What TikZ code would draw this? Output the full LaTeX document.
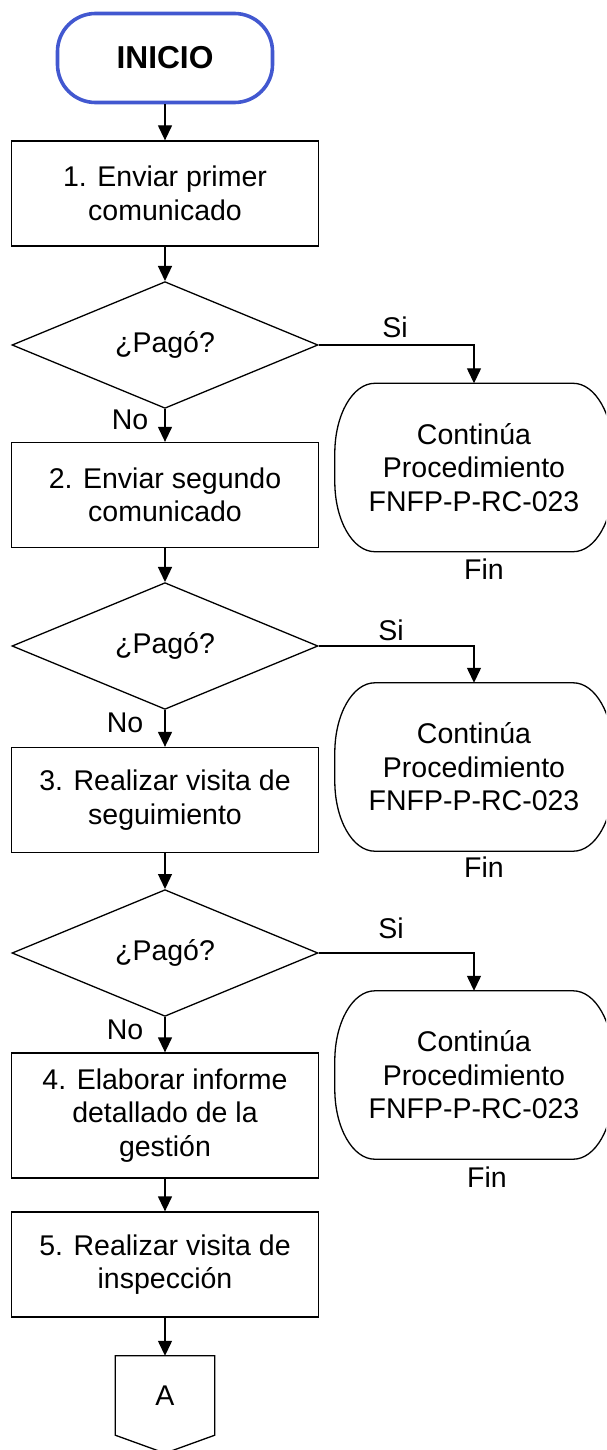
\documentclass[tikz,border=0pt]{standalone}
\usepackage{fontspec}
\setmainfont{Liberation Sans}
\usetikzlibrary{arrows.meta,shapes.geometric}
\definecolor{inicioblue}{RGB}{66,88,208}
\begin{document}
\begin{tikzpicture}[x=1pt,y=-1pt,
  every node/.style={font=\fontsize{28.5}{33.5}\selectfont, inner sep=0pt},
  proc/.style={draw=black, line width=1.3pt, minimum width=307pt, minimum height=105pt, align=center},
  dec/.style={diamond, draw=black, line width=1.3pt, minimum width=306pt, minimum height=120pt},
  termnode/.style={minimum width=278pt, minimum height=168pt, align=center},
  arr/.style={draw=black, line width=1.3pt, -{Triangle[length=15pt,width=14pt]}}
]
\useasboundingbox (0,0) rectangle (606,1450);
\clip (0,0) rectangle (606,1450);
% start
\node[draw=inicioblue, line width=3.6pt, rounded corners=38pt, minimum width=215pt, minimum height=89pt,
  font=\fontsize{31.7}{36}\selectfont\bfseries] (ini) at (165,58) {INICIO};
% main column
\node[proc] (b1) at (165,193.5) {1. Enviar primer\\comunicado};
\node[dec] (d1) at (165,345) {¿Pagó?};
\node[proc] (b2) at (165,495) {2. Enviar segundo\\comunicado};
\node[dec] (d2) at (165,646) {¿Pagó?};
\node[proc] (b3) at (165,800) {3. Realizar visita de\\seguimiento};
\node[dec] (d3) at (165,953) {¿Pagó?};
\node[proc, minimum height=125pt] (b4) at (165,1115.5) {4. Elaborar informe\\detallado de la\\gestión};
\node[proc] (b5) at (165,1264.5) {5. Realizar visita de\\inspección};
\node[minimum width=99pt, minimum height=79pt] (A) at (165,1395.5) {A};
\draw[line width=1.3pt] (A.north west) -- (A.north east) -- (A.south east) -- ([yshift=-18pt]A.south) -- (A.south west) -- cycle;
% terminals
\node[termnode] (t1) at (474,467.5) {Continúa\\Procedimiento\\FNFP-P-RC-023};
\node[termnode] (t2) at (474,767) {Continúa\\Procedimiento\\FNFP-P-RC-023};
\node[termnode] (t3) at (474,1075) {Continúa\\Procedimiento\\FNFP-P-RC-023};
\foreach \n in {t1,t2,t3}{
  \draw[line width=1.3pt] ([xshift=40pt]\n.north west) -- ([xshift=-40pt]\n.north east)
    arc[start angle=90,end angle=0,x radius=40pt,y radius=70pt] -- ([yshift=70pt]\n.south east)
    arc[start angle=0,end angle=-90,x radius=40pt,y radius=70pt] -- ([xshift=40pt]\n.south west)
    arc[start angle=270,end angle=180,x radius=40pt,y radius=70pt] -- ([yshift=-70pt]\n.north west)
    arc[start angle=180,end angle=90,x radius=40pt,y radius=70pt] -- cycle;
}
% fin labels
\node (f1) at (484,569) {Fin};
\node (f2) at (484,867) {Fin};
\node (f3) at (487,1177) {Fin};
% connectors
\draw[arr] (ini.south) -- (b1.north);
\draw[arr] (b1.south) -- (d1.north);
\draw[arr] (d1.south) -- (b2.north);
\draw[arr] (b2.south) -- (d2.north);
\draw[arr] (d2.south) -- (b3.north);
\draw[arr] (b3.south) -- (d3.north);
\draw[arr] (d3.south) -- (b4.north);
\draw[arr] (b4.south) -- (b5.north);
\draw[arr] (b5.south) -- (A.north);
\draw[arr] (d1.east) -| (t1.north);
\draw[arr] (d2.east) -| (t2.north);
\draw[arr] (d3.east) -| (t3.north);
% labels
\node (si1) at (395,327) {Si};
\node (si2) at (391,630) {Si};
\node (si3) at (391,928) {Si};
\node (no1) at (130,420) {No};
\node (no2) at (125,723) {No};
\node (no3) at (125,1030) {No};
\end{tikzpicture}
\end{document}
